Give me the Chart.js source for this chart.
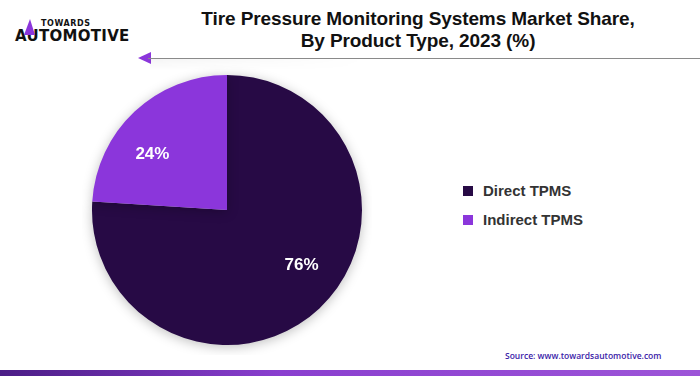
<!DOCTYPE html>
<html>
<head>
<meta charset="utf-8">
<script src="https://cdn.jsdelivr.net/npm/chart.js@4.4.1/dist/chart.umd.min.js"></script>
<style>
  html, body { margin: 0; padding: 0; background: #fff; }
  body { width: 700px; height: 376px; position: relative; overflow: hidden; font-family: "Liberation Sans", Arial, sans-serif; }
  .title { position: absolute; left: 130px; width: 576px; top: 8px; text-align: center; font-weight: 700; font-size: 19px; line-height: 22px; color: #111; letter-spacing: -0.1px; }
  .rule { position: absolute; left: 148px; right: 0; top: 58px; height: 1px; background: #8a8a8a; }
  .rule-shadow { position: absolute; left: 150px; width: 220px; top: 59px; height: 12px;
    background: linear-gradient(to bottom, rgba(0,0,0,0.04), rgba(0,0,0,0));
    -webkit-mask-image: linear-gradient(to right, #000, rgba(0,0,0,0)); mask-image: linear-gradient(to right, #000, rgba(0,0,0,0)); }
  .arrow { position: absolute; left: 138px; top: 52px; width: 0; height: 0; border-top: 6px solid transparent; border-bottom: 6px solid transparent; border-right: 13px solid #8b36db; }
  .logo { position: absolute; left: 15px; top: 17px; }
  .logo .small { position: absolute; left: 26px; top: 2px; font-family: "DejaVu Sans", sans-serif; font-weight: 700; font-size: 8px; color: #111; letter-spacing: 0.6px; }
  .logo .big { position: absolute; left: 0; top: 10px; font-family: "DejaVu Sans", sans-serif; font-weight: 700; font-size: 15px; color: #111; letter-spacing: 0.3px; white-space: nowrap; }
  .logo .mark { position: absolute; left: 9px; top: 2px; width: 0; height: 0; border-left: 6px solid transparent; border-right: 5px solid transparent; border-bottom: 16px solid #8b36db; }
  #wrap { position: absolute; left: 82px; top: 65px; width: 290px; height: 290px; }
  .legend { position: absolute; left: 463px; top: 176px; }
  .legend .item { display: flex; align-items: center; height: 29px; font-weight: 700; font-size: 15px; color: #333; }
  .legend .box { width: 10px; height: 10px; margin-right: 10px; }
  .source { position: absolute; left: 505px; top: 350px; font-family: "Open Sans", sans-serif; font-weight: 600; font-size: 8.5px; color: #3b22a8; }
  .bar { position: absolute; left: 0; right: 0; top: 370px; height: 6px; background: linear-gradient(to right, #4b1d86, #8a3fcf 40%, #9d55d8); }
</style>
</head>
<body>
<div class="logo">
  <div class="small">TOWARDS</div>
  <div class="big">AUTOMOTIVE</div>
  <div class="mark"></div>
</div>
<div class="title">Tire Pressure Monitoring Systems Market Share,<br>By Product Type, 2023 (%)</div>
<div class="arrow"></div>
<div class="rule"></div>
<div class="rule-shadow"></div>
<div id="wrap"><canvas id="pie"></canvas></div>
<div class="legend" id="legend"></div>
<div class="source">Source: www.towardsautomotive.com</div>
<div class="bar"></div>
<script>
const labels = ['Direct TPMS', 'Indirect TPMS'];
const shares = [76, 24];
const colors = ['#270a45', '#8b36db'];

// HTML legend built from the same arrays
const legendEl = document.getElementById('legend');
labels.forEach(function(label, i) {
  const item = document.createElement('div');
  item.className = 'item';
  item.innerHTML = '<span class="box" style="background:' + colors[i] + '"></span>' + label;
  legendEl.appendChild(item);
});

// soft shadow under the pie
const shadowPlugin = {
  id: 'pieShadow',
  beforeDatasetsDraw(chart) {
    const ctx = chart.ctx;
    ctx.save();
    ctx.shadowColor = 'rgba(0,0,0,0.25)';
    ctx.shadowBlur = 12;
    ctx.shadowOffsetX = 0;
    ctx.shadowOffsetY = 2;
  },
  afterDatasetsDraw(chart) {
    chart.ctx.restore();
  }
};

// percentage labels inside slices (a bit rotated back from the slice middle)
const labelPlugin = {
  id: 'sliceLabels',
  afterDatasetsDraw(chart) {
    const ctx = chart.ctx;
    const meta = chart.getDatasetMeta(0);
    ctx.save();
    ctx.fillStyle = '#ffffff';
    ctx.font = 'bold 17px "Liberation Sans", Arial, sans-serif';
    ctx.textAlign = 'center';
    ctx.textBaseline = 'middle';
    meta.data.forEach(function(arc, i) {
      const p = arc.getProps(['x', 'y', 'startAngle', 'endAngle', 'outerRadius']);
      const mid = (p.startAngle + p.endAngle) / 2 - 10 * Math.PI / 180;
      const r = p.outerRadius * 0.69;
      ctx.fillText(shares[i] + '%', p.x + Math.cos(mid) * r, p.y + Math.sin(mid) * r);
    });
    ctx.restore();
  }
};

new Chart(document.getElementById('pie'), {
  type: 'pie',
  data: {
    labels: labels,
    datasets: [{
      data: shares,
      backgroundColor: colors,
      borderWidth: 0
    }]
  },
  options: {
    responsive: true,
    maintainAspectRatio: false,
    animation: false,
    layout: { padding: 10 },
    plugins: {
      legend: { display: false },
      tooltip: { enabled: false }
    }
  },
  plugins: [shadowPlugin, labelPlugin]
});
</script>
</body>
</html>
